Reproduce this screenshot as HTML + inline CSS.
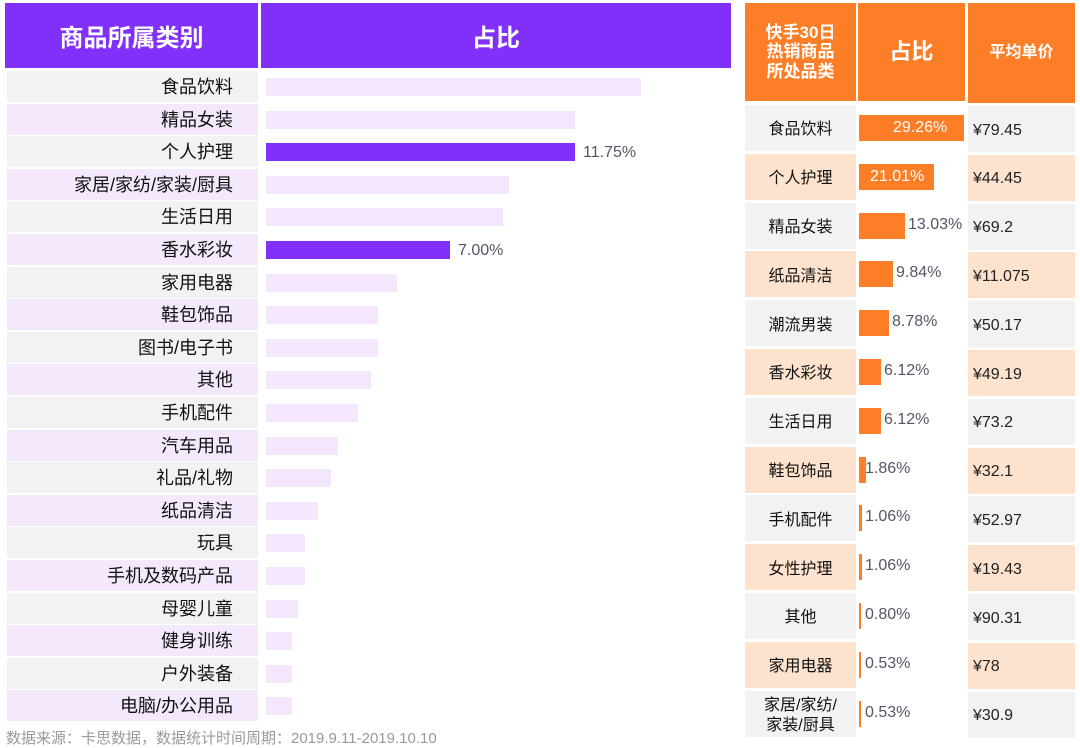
<!DOCTYPE html><html><head><meta charset="utf-8"><style>
body{margin:0;width:1080px;height:746px;background:#fff;font-family:"Liberation Sans","Noto Sans CJK SC",sans-serif;position:relative;overflow:hidden}
div{position:absolute;box-sizing:border-box}
.h{background:#8030f8;color:#fff;font-weight:bold;display:flex;align-items:center;justify-content:center;text-align:center}
.ho{background:#fd7e26;color:#fff;font-weight:bold;display:flex;align-items:center;justify-content:center;text-align:center;line-height:1.15}
.l{left:7px;width:251px;height:31px;text-align:right;padding-right:25px;font-size:18px;line-height:33px;color:#111}
.b{left:266px;height:18px;background:#f4e6fd}
.v{font-size:16px;color:#556;}
.c{display:flex;align-items:center;justify-content:center;font-size:16px;color:#111;text-align:center;line-height:1.2;padding-top:4px}
.p{display:flex;align-items:center;padding-left:5px;font-size:16px;color:#222;padding-top:3px}
.ob{left:859px;height:26px;background:#fd7e26}
.ov{font-size:16px;color:#556}
</style></head><body>
<div class="h" style="left:5px;top:3px;width:253px;height:65px;font-size:24px">商品所属类别</div>
<div class="h" style="left:261px;top:3px;width:470px;height:65px;font-size:24px">占比</div>
<div id="L"></div>
<div class="ho" style="left:745px;top:3px;width:111px;height:98px;font-size:17px">快手30日<br>热销商品<br>所处品类</div>
<div class="ho" style="left:858px;top:3px;width:107px;height:98px;font-size:22px">占比</div>
<div class="ho" style="left:968px;top:3px;width:107px;height:100px;font-size:16px">平均单价</div>
<div id="R"></div>
<div style="left:6px;top:727px;font-size:15px;color:#999">数据来源：卡思数据，数据统计时间周期：2019.9.11-2019.10.10</div>
<script>
var L=[["食品饮料",641],["精品女装",575],["个人护理",575,"11.75%"],["家居/家纺/家装/厨具",509],["生活日用",503],["香水彩妆",450,"7.00%"],["家用电器",397],["鞋包饰品",378],["图书/电子书",378],["其他",371],["手机配件",358],["汽车用品",338],["礼品/礼物",331],["纸品清洁",318],["玩具",305],["手机及数码产品",305],["母婴儿童",298],["健身训练",292],["户外装备",292],["电脑/办公用品",292]];
var h="";L.forEach(function(r,i){var y=71+i*32.6;
h+='<div class="l" style="top:'+y+'px;background:'+(i%2?'#f3e8fc':'#f2f2f2')+'">'+r[0]+'</div>';
h+='<div class="b" style="top:'+(y+7)+'px;width:'+(r[1]-266)+'px;'+(r[2]?'background:#8030f8':'')+'"></div>';
if(r[2])h+='<div class="v" style="left:'+(r[1]+8)+'px;top:'+(y+8)+'px">'+r[2]+'</div>';});
document.getElementById("L").outerHTML=h;
var R=[["食品饮料",964,"29.26%","79.45",1],["个人护理",934,"21.01%","44.45",1],["精品女装",905,"13.03%","69.2"],["纸品清洁",893,"9.84%","11.075"],["潮流男装",889,"8.78%","50.17"],["香水彩妆",881,"6.12%","49.19"],["生活日用",881,"6.12%","73.2"],["鞋包饰品",866,"1.86%","32.1"],["手机配件",862,"1.06%","52.97"],["女性护理",862,"1.06%","19.43"],["其他",861,"0.80%","90.31"],["家用电器",861,"0.53%","78"],["家居/家纺/<br>家装/厨具",861,"0.53%","30.9"]];
h="";R.forEach(function(r,i){var y=105+i*48.8,bg=i%2?'#fde3cd':'#f2f2f2';
h+='<div class="c" style="left:745px;top:'+y+'px;width:111px;height:46px;background:'+bg+'">'+r[0]+'</div>';
h+='<div class="p" style="left:968px;top:'+(y+1)+'px;width:107px;height:46px;background:'+bg+'">¥'+r[3]+'</div>';
h+='<div class="ob" style="top:'+(y+10)+'px;width:'+(r[1]-859)+'px"></div>';
if(r[4])h+='<div class="ov" style="left:'+(i?870:893)+'px;top:'+(y+14)+'px;color:#fff">'+r[2]+'</div>';
else h+='<div class="ov" style="left:'+(r[1]<870?865:r[1]+3)+'px;top:'+(y+13)+'px">'+r[2]+'</div>';});
document.getElementById("R").outerHTML=h;
</script></body></html>
